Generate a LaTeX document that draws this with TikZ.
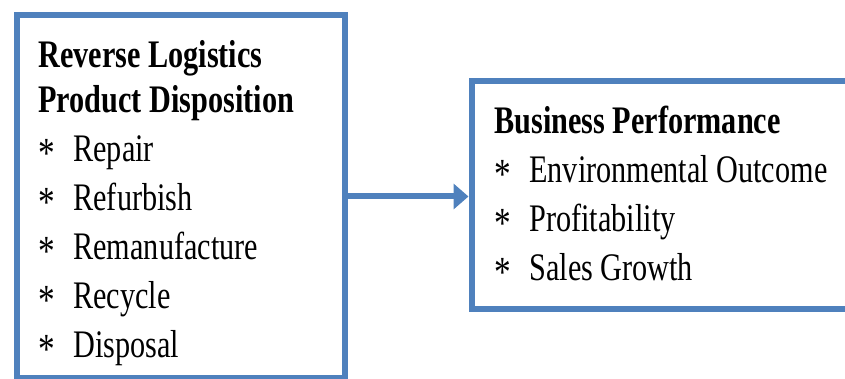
\documentclass[tikz,border=0pt]{standalone}
\usepackage{fontspec}
\setmainfont{Liberation Serif}[FakeStretch=0.775]
\usetikzlibrary{arrows.meta,positioning}

\definecolor{boxblue}{HTML}{4F81BD}
% star bullet with a fixed indent
\newcommand{\itemstar}{\makebox[17.5pt][l]{\raisebox{-0.15em}{\scalebox{1.1}{*}}}}

\begin{document}
\begin{tikzpicture}[x=0.5pt,y=-0.5pt,
    panel/.style={draw=boxblue, line width=3pt, rectangle, inner sep=0pt,
      outer sep=0pt, anchor=north west},
    listtext/.style={align=left, inner sep=0pt,
      font=\fontsize{19.5}{24.5}\selectfont},
    link/.style={draw=boxblue, line width=3pt,
      -{Triangle[length=7.5pt,width=12.5pt]}, shorten >=1.5pt}]
    \useasboundingbox (0,0) rectangle (845,379);
    \clip (0,0) rectangle (845,379);

    % Disposition options
    \node[panel, minimum width=164.25pt, minimum height=181pt] (disp) at (16.5,15.5) {};
    \node[listtext, below right=12.25pt and 10.75pt of disp.north west] (displist)
      {\textbf{Reverse Logistics}\\[-2pt]
       \textbf{Product Disposition}\\
       \itemstar Repair\\
       \itemstar Refurbish\\
       \itemstar Remanufacture\\
       \itemstar Recycle\\
       \itemstar Disposal};

    % Performance measures
    \node[panel, minimum width=189.25pt, minimum height=113.75pt] (perf) at (471.5,81.5) {};
    \node[listtext, below right=12.25pt and 11.25pt of perf.north west] (perflist)
      {\textbf{Business Performance}\\
       \itemstar Environmental Outcome\\
       \itemstar Profitability\\
       \itemstar Sales Growth};

    \draw[link] (disp.east) -- (disp.east -| perf.west);
\end{tikzpicture}
\end{document}
